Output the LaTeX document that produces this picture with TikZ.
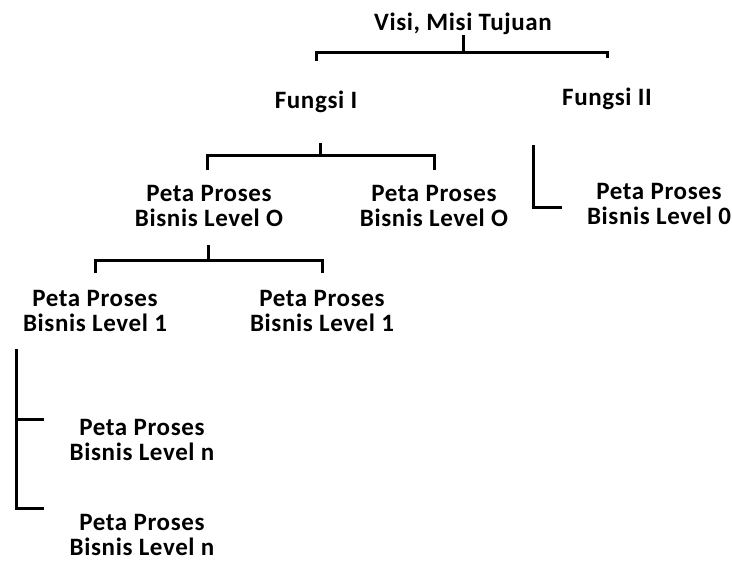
\documentclass[tikz,border=0pt]{standalone}
\usepackage{fontspec}
\setmainfont{Carlito}[LetterSpace=2.5]
\usetikzlibrary{calc}

\begin{document}
\begin{tikzpicture}[x=1pt,y=1pt,
    lbl/.style={inner sep=0pt,align=center,font=\fontsize{25}{25}\selectfont\bfseries},
    link/.style={line width=3pt}]

    \useasboundingbox (0,0) rectangle (732,-562);

    \node[lbl] at (463,-24) (visi) {Visi, Misi Tujuan};
    \node[lbl] at (316,-102) (f1) {Fungsi I};
    \node[lbl] at (607,-99) (f2) {Fungsi II};

    \node[lbl] at (209,-206) (p0a) {Peta Proses\\Bisnis Level O};
    \node[lbl] at (434,-206) (p0b) {Peta Proses\\Bisnis Level O};
    \node[lbl] at (659,-204) (p0c) {Peta Proses\\Bisnis Level 0};

    \node[lbl] at (95,-311) (p1a) {Peta Proses\\Bisnis Level 1};
    \node[lbl] at (322,-311) (p1b) {Peta Proses\\Bisnis Level 1};

    \node[lbl] at (142,-440) (pna) {Peta Proses\\Bisnis Level n};
    \node[lbl] at (142,-535) (pnb) {Peta Proses\\Bisnis Level n};

    \coordinate (j1) at (463,-52);
    \draw[link] (visi.south) -- (j1);
    \draw[link] ([yshift=30]f1.north) |- (j1) -| ([yshift=30]f2.north);

    \coordinate (j2) at (320,-155);
    \draw[link] ([xshift=4,yshift=-30]f1.south) -- (j2);
    \draw[link] ([xshift=-2,yshift=15]p0a.north) |- (j2) -| ([yshift=15]p0b.north);

    \draw[link] ([xshift=-74,yshift=-35]f2.south) |- ([xshift=-25,yshift=-3]p0c.west);

    \coordinate (j3) at (208,-260);
    \draw[link] ([xshift=-1,yshift=-18]p0a.south) -- (j3);
    \draw[link] ([yshift=17]p1a.north) |- (j3) -| ([yshift=17]p1b.north);

    \coordinate (v1) at ([xshift=-6,yshift=-17]p1a.south west);
    \draw[link] (v1) |- ([xshift=-25,yshift=6]pnb.north west);
    \draw[link] ([xshift=-25]pna.north west) -- (v1 |- pna.north west);

\end{tikzpicture}
\end{document}
